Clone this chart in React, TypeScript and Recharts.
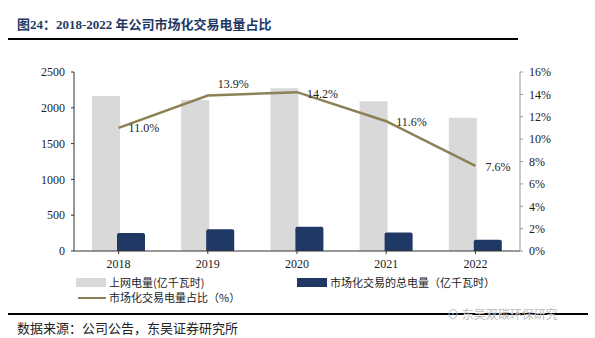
import { ComposedChart, Bar, Line, XAxis, YAxis, LabelList } from "recharts";

const years = ["2018", "2019", "2020", "2021", "2022"];
const gridPower = [2165, 2109, 2272, 2091, 1862];
const marketPower = [252, 305, 340, 258, 158];
const marketShare = [11.0, 13.9, 14.2, 11.6, 7.6];
const leftTicks = [0, 500, 1000, 1500, 2000, 2500];
const rightTicks = [0, 2, 4, 6, 8, 10, 12, 14, 16];
const labelLift = [0, -11, 2, 1, 1];

const data = years.map((y, i) => ({
  year: y,
  grid: gridPower[i],
  market: marketPower[i],
  share: marketShare[i],
}));

const serif = '"Liberation Serif", "Times New Roman", "Noto Sans CJK SC", serif';
const cjk = '"Noto Sans CJK SC", "Liberation Serif", serif';

function ShareLabel(props: any) {
  const { x, y, value, index } = props;
  return (
    <text
      x={x + 10}
      y={y + labelLift[index]}
      dy={4}
      textAnchor="start"
      fontSize={12}
      fontFamily={serif}
      fill="#222"
    >
      {value.toFixed(1)}%
    </text>
  );
}

export default function App() {
  return (
    <div
      style={{
        position: "absolute",
        left: 0,
        top: 0,
        width: 595,
        height: 338,
        background: "#fff",
        overflow: "hidden",
      }}
    >
      <div
        style={{
          position: "absolute",
          left: 17,
          top: 14,
          fontFamily: serif,
          fontWeight: "bold",
          fontSize: 13,
          color: "#1F3864",
          whiteSpace: "nowrap",
        }}
      >
        图24：2018-2022 年公司市场化交易电量占比
      </div>
      <div
        style={{
          position: "absolute",
          left: 8,
          top: 38,
          width: 510,
          height: 2,
          background: "#000",
        }}
      />
      <div style={{ position: "absolute", left: 0, top: 0 }}>
        <ComposedChart
          width={595}
          height={338}
          data={data}
          barSize={28}
          barGap={-3}
          margin={{ top: 72, right: 0, bottom: 67, left: 0 }}
        >
          <XAxis
            dataKey="year"
            height={20}
            axisLine={{ stroke: "#333" }}
            tickLine={{ stroke: "#333" }}
            tickSize={3}
            tickMargin={5}
            tick={{ fontSize: 12, fontFamily: serif, fill: "#222" }}
            interval={0}
          />
          <YAxis
            yAxisId="left"
            width={74}
            domain={[0, 2500]}
            ticks={leftTicks}
            axisLine={{ stroke: "#333" }}
            tickLine={{ stroke: "#333" }}
            tickSize={3}
            tickMargin={6}
            tick={{ fontSize: 12, fontFamily: serif, fill: "#222" }}
          />
          <YAxis
            yAxisId="right"
            orientation="right"
            width={75}
            domain={[0, 16]}
            ticks={rightTicks}
            tickFormatter={(v: number) => `${v}%`}
            axisLine={{ stroke: "#999" }}
            tickLine={{ stroke: "#999" }}
            tickSize={3}
            tickMargin={6}
            tick={{ fontSize: 12, fontFamily: serif, fill: "#222" }}
          />
          <Bar
            yAxisId="left"
            dataKey="grid"
            fill="#D9D9D9"
            isAnimationActive={false}
          />
          <Bar
            yAxisId="left"
            dataKey="market"
            fill="#1F3864"
            radius={[2, 2, 0, 0]}
            isAnimationActive={false}
          />
          <Line
            yAxisId="right"
            dataKey="share"
            stroke="#8C8155"
            strokeWidth={2.5}
            dot={false}
            isAnimationActive={false}
          >
            <LabelList dataKey="share" content={<ShareLabel />} />
          </Line>
        </ComposedChart>
      </div>
      <div
        style={{
          position: "absolute",
          left: 76,
          top: 276,
          fontFamily: cjk,
          fontSize: 11,
          color: "#222",
          lineHeight: "13px",
        }}
      >
        <div style={{ display: "flex", alignItems: "center" }}>
          <span style={{ display: "inline-block", width: 30, height: 9, background: "#D9D9D9", marginRight: 3 }} />
          <span style={{ width: 188 }}>上网电量(亿千瓦时)</span>
          <span style={{ display: "inline-block", width: 30, height: 9, background: "#1F3864", marginRight: 3 }} />
          <span>市场化交易的总电量（亿千瓦时）</span>
        </div>
        <div style={{ display: "flex", alignItems: "center", marginTop: 2 }}>
          <span style={{ display: "inline-block", width: 28, height: 2, background: "#8C8155", marginLeft: 2, marginRight: 3 }} />
          <span>市场化交易电量占比（%）</span>
        </div>
      </div>
      <div
        style={{
          position: "absolute",
          left: 8,
          top: 313,
          width: 580,
          height: 2,
          background: "#000",
        }}
      />
      <div
        style={{
          position: "absolute",
          left: 447,
          top: 305,
          fontFamily: cjk,
          fontSize: 12,
          color: "#bbb",
          whiteSpace: "nowrap",
        }}
      >
        ⊙ 东吴双碳环保研究
      </div>
      <div
        style={{
          position: "absolute",
          left: 17,
          top: 318,
          fontFamily: cjk,
          fontSize: 13,
          color: "#222",
          whiteSpace: "nowrap",
        }}
      >
        数据来源：公司公告，东吴证券研究所
      </div>
    </div>
  );
}
